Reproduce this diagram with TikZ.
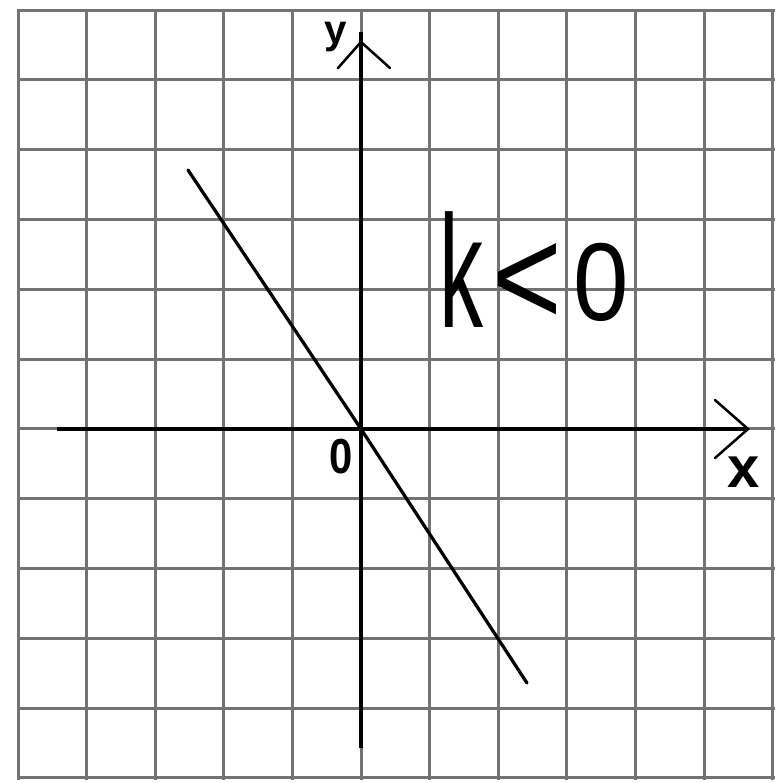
\documentclass[tikz,border=0pt]{standalone}
\usepackage{fontspec}
\setmainfont{Liberation Sans}
\begin{document}
\begin{tikzpicture}[x=0.02cm,y=-0.02cm,
  gridline/.style={draw=gray!90!black, line width=0.06cm, line cap=rect},
  axis/.style={draw=black, line width=0.075cm},
  barb/.style={draw=black, line width=0.05cm, line cap=round},
  graphline/.style={draw=black, line width=0.065cm, line cap=round},
  lbl/.style={inner sep=0pt, outer sep=0pt, transform shape}]
\useasboundingbox (0,0) rectangle (783,782);
\fill[white] (0,0) rectangle (783,782);
\foreach \i in {0,...,11} {
  \draw[gridline] ({18+68.6*\i},10) -- ({18+68.6*\i},778);
  \draw[gridline] (18,{10+69.8*\i}) -- (773,{10+69.8*\i});
}
% axes
\coordinate (O) at (361,429);
\coordinate (xs) at (57,429);
\coordinate (xe) at (748,429);
\coordinate (xb1) at (715,400);
\coordinate (xb2) at (715,458);
\coordinate (ys) at (361,748);
\coordinate (ye) at (361,32);
\coordinate (yt) at (361,42);
\coordinate (yb1) at (338,68);
\coordinate (yb2) at (390,68);
\draw[axis] (xs) -- (xe);
\draw[axis] (ys) -- (ye);
\draw[barb] (xb1) -- (xe) -- (xb2);
\draw[barb] (yb1) -- (yt) -- (yb2);
% graph line
\coordinate (la) at (188,170);
\coordinate (lb) at (527,683);
\draw[graphline] (la) -- (O) -- (lb);
% labels
\node[lbl, font=\bfseries\fontsize{23pt}{23pt}\selectfont] (ylab) at (336,37) {y};
\node[lbl, font=\bfseries\fontsize{33pt}{33pt}\selectfont] (xlab) at (744,472) {x};
\node[lbl, font=\bfseries\fontsize{28pt}{28pt}\selectfont, xscale=0.85] (olab) at (341,457) {0};
\node[lbl, font=\fontsize{91pt}{91pt}\selectfont, xscale=0.55] (klab) at (461,270) {k};
\node[lbl, font=\fontsize{80pt}{80pt}\selectfont, xscale=0.85] (lt) at (527,285) {<};
\node[lbl, font=\fontsize{63pt}{63pt}\selectfont, xscale=0.9] (zero) at (601,282) {0};
\end{tikzpicture}
\end{document}
